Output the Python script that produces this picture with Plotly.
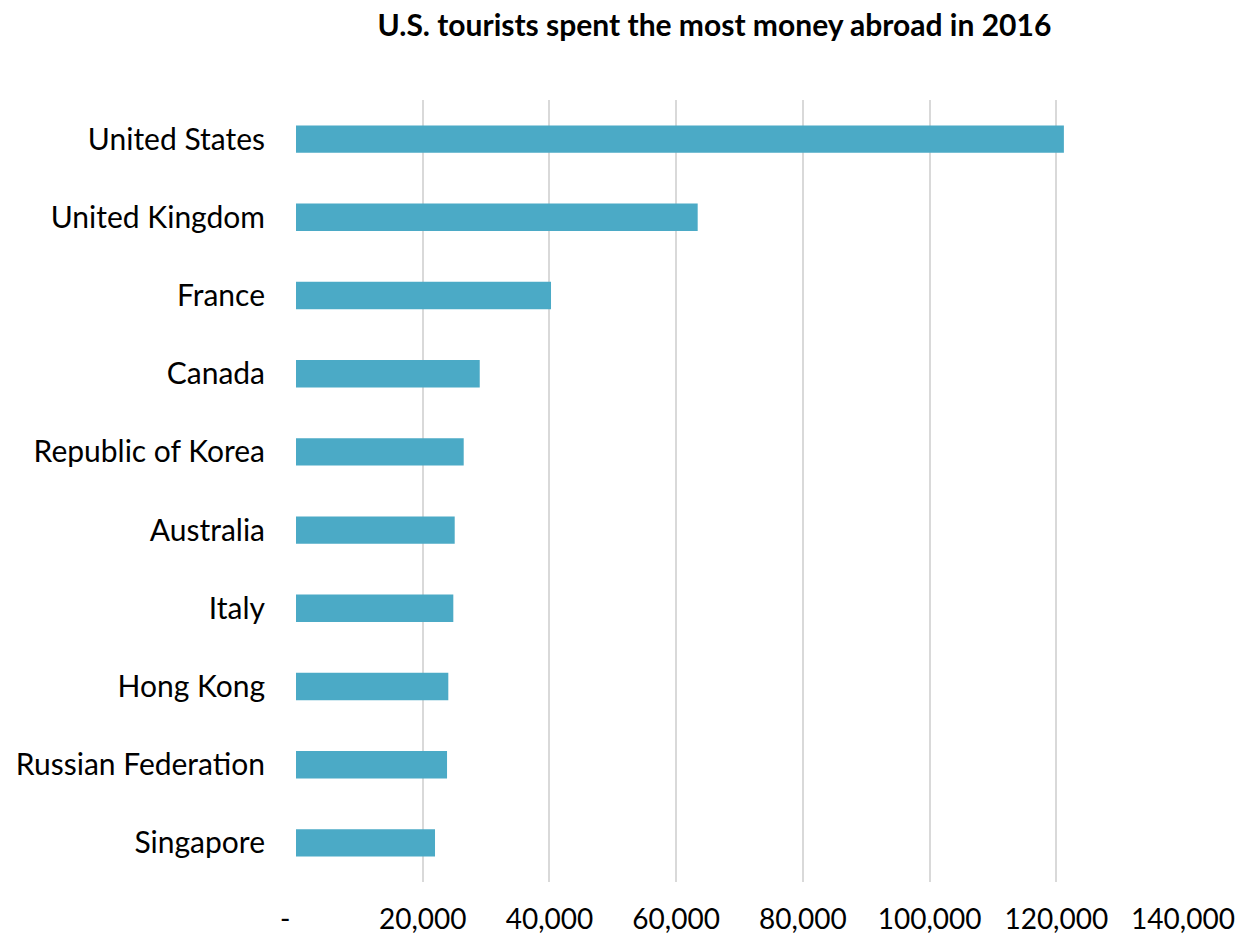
import plotly.graph_objects as go

# Tourism expenditure abroad, 2016 (US$ millions)
countries = [
    "United States", "United Kingdom", "France", "Canada", "Republic of Korea",
    "Australia", "Italy", "Hong Kong", "Russian Federation", "Singapore",
]
spending = [121200, 63400, 40250, 29000, 26470, 25050, 24830, 24040, 23840, 21940]

tick_values = [0, 20000, 40000, 60000, 80000, 100000, 120000, 140000]
tick_labels = ["-   ", "20,000", "40,000", "60,000", "80,000", "100,000", "120,000", "140,000"]

BAR_COLOR = "#4BAAC6"
FONT = "Lato, 'Open Sans', sans-serif"

fig = go.Figure(
    go.Bar(
        x=spending,
        y=countries,
        orientation="h",
        marker=dict(color=BAR_COLOR, line=dict(width=0)),
        width=0.35,
        hoverinfo="x+y",
    )
)

fig.update_layout(
    width=1260,
    height=937,
    margin=dict(l=296, r=77, t=100, b=55),
    paper_bgcolor="white",
    plot_bgcolor="white",
    showlegend=False,
    font=dict(family=FONT, size=29, color="#000000"),
    title=dict(
        text="<b>U.S. tourists spent the most money abroad in 2016</b>",
        x=0.567,
        xanchor="center",
        y=0.973,
        yanchor="middle",
        font=dict(family=FONT, size=30, color="#000000"),
    ),
    xaxis=dict(
        range=[0, 140000],
        tickvals=tick_values,
        ticktext=tick_labels,
        showgrid=True,
        gridcolor="#D9D9D9",
        gridwidth=2,
        zeroline=False,
        showline=False,
        ticks="",
        automargin=False,
        ticklabelstandoff=18,
        tickfont=dict(family=FONT, size=28),
    ),
    yaxis=dict(
        categoryorder="array",
        categoryarray=countries[::-1],
        showgrid=False,
        zeroline=False,
        showline=False,
        ticks="",
        automargin=False,
        ticklabelstandoff=30,
        tickfont=dict(family=FONT, size=30),
    ),
)

fig.write_html("out.html")
